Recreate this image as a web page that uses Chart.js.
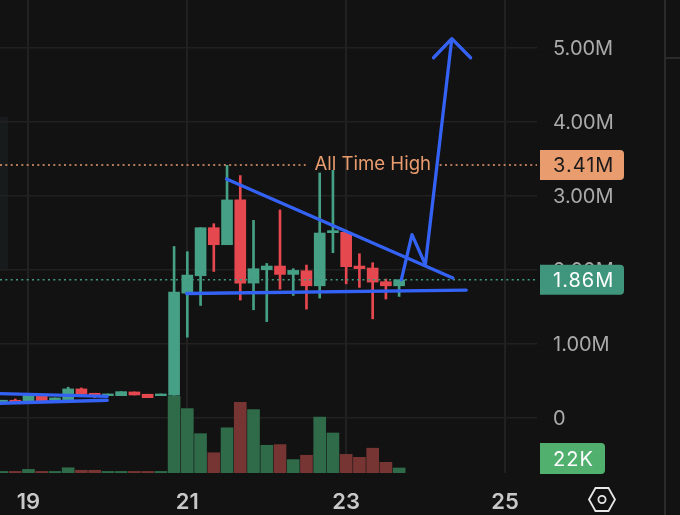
<!DOCTYPE html>
<html>
<head>
<meta charset="utf-8">
<style>
  html, body { margin: 0; padding: 0; background: #121212; }
  canvas { display: block; }
</style>
<script src="https://cdn.jsdelivr.net/npm/chart.js@4"></script>
</head>
<body>
<canvas id="chart" width="680" height="515"></canvas>
<script>
// Candles are 4h apart, index 0 is the "19" tick
const candleIndex = [-2, -1, 0, 1, 2, 3, 4, 5, 6, 7, 8, 9, 10, 11, 12, 13, 14, 15, 16, 17, 18, 19, 20, 21, 22, 23, 24, 25, 26, 27, 28];
const opens  = [0.21, 0.233, 0.192, 0.314, 0.237, 0.237, 0.386, 0.327, 0.295, 0.295, 0.345, 0.314, 0.295, 0.30, 1.68, 1.915, 2.564, 2.334, 2.939, 1.816, 1.996, 2.046, 1.933, 1.982, 1.779, 2.497, 2.501, 2.046, 2.019, 1.834, 1.779];
const closes = [0.233, 0.21, 0.314, 0.219, 0.264, 0.386, 0.314, 0.295, 0.318, 0.349, 0.304, 0.268, 0.318, 1.694, 1.924, 2.564, 2.334, 2.939, 1.816, 2.01, 2.046, 1.933, 1.987, 1.779, 2.492, 2.524, 2.037, 2.01, 1.829, 1.779, 1.86];
const highs  = [0.233, 0.25, 0.314, 0.314, 0.264, 0.409, 0.399, 0.327, 0.318, 0.349, 0.345, 0.314, 0.318, 2.31, 2.24, 2.564, 2.618, 3.407, 3.268, 2.663, 2.081, 2.803, 2.01, 2.059, 3.304, 3.34, 2.53, 2.212, 2.091, 1.87, 1.86];
const lows   = [0.21, 0.21, 0.192, 0.219, 0.237, 0.237, 0.314, 0.268, 0.295, 0.295, 0.304, 0.268, 0.295, 0.30, 1.085, 1.513, 1.973, 2.334, 1.586, 1.455, 1.296, 1.734, 1.649, 1.464, 1.613, 2.226, 1.806, 1.757, 1.333, 1.6, 1.635];
const volumes = [7, 7, 16, 7, 7, 23, 12, 12, 7, 7, 7, 7, 7, 337, 283, 173, 89, 199, 311, 279, 122, 125, 59, 78, 246, 176, 82, 69, 109, 47, 22];

const priceTicks = [0, 1, 2, 3, 4, 5];
const dayTicks = [0, 12, 24, 36];
const dayLabels = ["19", "21", "23", "25"];

const athPrice = 3.41;
const lastPrice = 1.86;
const lastVolume = "22K";

// Drawn trend lines, [index, price]
const upperTrend = [[14.96, 3.223], [32.06, 1.884]];
const lowerTrend = [[11.94, 1.675], [33.07, 1.721]];
const arrowPath = [[28.17, 1.861], [28.97, 2.47], [29.98, 2.064], [31.98, 5.118], [30.6, 4.86], [31.98, 5.118], [33.4, 4.86]];
const oldUpper = [[-2.15, 0.322], [5.95, 0.286]];
const oldLower = [[-2.15, 0.192], [5.95, 0.233]];

const xMin = -2.151, xMax = 38.415;
const priceMin = -0.75, priceMax = 5.64;
const volumeMax = 2081;

const GREEN = "#46a085", RED = "#e5484f";
const VOL_GREEN = "#2f6a49", VOL_RED = "#763533";
const BLUE = "#3462f4";
const ORANGE = "#e99c6e";
const GRID = "#212121";

const isUp = candleIndex.map((_, i) => closes[i] >= opens[i]);
const candleColors = isUp.map(up => up ? GREEN : RED);
const volumeColors = isUp.map(up => up ? VOL_GREEN : VOL_RED);
const toPoints = list => list.map(p => ({ x: p[0], y: p[1] }));

function trendLine(points) {
    return {
        type: 'line',
        data: toPoints(points),
        borderColor: BLUE,
        borderWidth: 3.3,
        pointRadius: 0,
        tension: 0,
        borderCapStyle: 'round',
        borderJoinStyle: 'round',
        yAxisID: 'y',
        order: 1
    };
}

function dottedLine(points, color) {
    return {
        type: 'line',
        data: toPoints(points),
        borderColor: color,
        borderWidth: 1.6,
        borderDash: [2, 3.33],
        pointRadius: 0,
        yAxisID: 'y',
        order: 2
    };
}

// Small rounded tag on the price axis
function tag(ctx, top, bottom, right, color, text, textColor, textX) {
    const left = 540;
    ctx.fillStyle = color;
    ctx.beginPath();
    ctx.roundRect(left, top, right - left, bottom - top, [0, 4, 4, 0]);
    ctx.fill();
    ctx.fillStyle = textColor;
    ctx.font = "20px Inter";
    ctx.letterSpacing = "1px";
    ctx.textAlign = "left";
    ctx.textBaseline = "middle";
    ctx.fillText(text, textX, (top + bottom) / 2 + 1);
    ctx.letterSpacing = "0px";
}

const chromePlugin = {
    id: 'chrome',
    beforeDraw(chart) {
        const { ctx, width, height } = chart;
        ctx.save();
        ctx.fillStyle = "#121212";
        ctx.fillRect(0, 0, width, height);
        // faint leftover panel on the left edge
        ctx.fillStyle = "#181b1c";
        ctx.fillRect(0, 117, 8, 153);
        // panel separators on the right
        ctx.fillStyle = "#2a2a2a";
        ctx.fillRect(664, 0, 2, height);
        ctx.fillRect(666, 57, 14, 2);
        ctx.restore();
    },
    afterDraw(chart) {
        const { ctx } = chart;
        const yScale = chart.scales.y;
        const xScale = chart.scales.x;
        ctx.save();

        const athY = yScale.getPixelForValue(athPrice);
        const lastY = yScale.getPixelForValue(lastPrice);

        ctx.fillStyle = ORANGE;
        ctx.font = "18.6px Inter";
        ctx.textAlign = "left";
        ctx.textBaseline = "middle";
        ctx.fillText("All Time High", xScale.getPixelForValue(21.6), athY - 1);

        tag(ctx, athY - 15, athY + 15, 624, ORANGE, athPrice.toFixed(2) + "M", "#1a1a1a", 553);
        tag(ctx, lastY - 15, lastY + 15, 624, "#40967c", lastPrice.toFixed(2) + "M", "#ffffff", 553);
        tag(ctx, 443, 474, 605, "#52b06f", lastVolume, "#ffffff", 553);

        // settings hexagon
        const cx = 602, cy = 499.5, rx = 13, ry = 11.5;
        ctx.strokeStyle = "#e6e6e6";
        ctx.lineWidth = 1.8;
        ctx.beginPath();
        ctx.moveTo(cx - rx, cy);
        ctx.lineTo(cx - rx / 2, cy - ry);
        ctx.lineTo(cx + rx / 2, cy - ry);
        ctx.lineTo(cx + rx, cy);
        ctx.lineTo(cx + rx / 2, cy + ry);
        ctx.lineTo(cx - rx / 2, cy + ry);
        ctx.closePath();
        ctx.stroke();
        ctx.beginPath();
        ctx.arc(cx, cy, 3.6, 0, Math.PI * 2);
        ctx.stroke();

        ctx.restore();
    }
};

new Chart(document.getElementById("chart"), {
    type: 'bar',
    plugins: [chromePlugin],
    data: {
        datasets: [
            {
                data: candleIndex.map((x, i) => ({ x: x, y: volumes[i] })),
                backgroundColor: volumeColors,
                barThickness: 12,
                yAxisID: 'yVol',
                order: 5
            },
            {
                data: candleIndex.map((x, i) => ({ x: x, y: [lows[i], highs[i]] })),
                backgroundColor: candleColors,
                barThickness: 2,
                yAxisID: 'y',
                order: 4
            },
            {
                data: candleIndex.map((x, i) => ({ x: x, y: [opens[i], closes[i]] })),
                backgroundColor: candleColors,
                barThickness: 11,
                yAxisID: 'y',
                order: 3
            },
            dottedLine([[xMin, athPrice], [20.94, athPrice]], ORANGE),
            dottedLine([[31.06, athPrice], [xMax, athPrice]], ORANGE),
            dottedLine([[xMin, lastPrice], [xMax, lastPrice]], "#3f9a80"),
            trendLine(oldUpper),
            trendLine(oldLower),
            trendLine(upperTrend),
            trendLine(lowerTrend),
            trendLine(arrowPath)
        ]
    },
    options: {
        responsive: false,
        animation: false,
        layout: { padding: 0 },
        datasets: { bar: { grouped: false } },
        plugins: {
            legend: { display: false },
            tooltip: { enabled: false }
        },
        scales: {
            x: {
                type: 'linear',
                min: xMin,
                max: xMax,
                offset: false,
                afterBuildTicks: scale => { scale.ticks = dayTicks.map(v => ({ value: v })); },
                afterFit: scale => { scale.height = 42; scale.paddingLeft = 0; scale.paddingRight = 0; },
                grid: { color: GRID, lineWidth: 2, offset: false, drawTicks: false },
                border: { display: false },
                ticks: {
                    color: "#c8c8c8",
                    font: { family: "Inter", size: 22, weight: 600 },
                    padding: 16,
                    maxRotation: 0,
                    autoSkip: false,
                    callback: v => dayLabels[dayTicks.indexOf(v)]
                }
            },
            y: {
                type: 'linear',
                position: 'right',
                min: priceMin,
                max: priceMax,
                afterBuildTicks: scale => { scale.ticks = priceTicks.map(v => ({ value: v })); },
                afterFit: scale => { scale.width = 143; scale.paddingTop = 0; scale.paddingBottom = 0; },
                grid: { color: GRID, lineWidth: 1.5, drawTicks: false },
                border: { display: false },
                ticks: {
                    color: "#aaaaaa",
                    font: { family: "Inter", size: 20 },
                    padding: 16,
                    labelOffset: 1.5,
                    autoSkip: false,
                    callback: v => v === 0 ? "0" : v.toFixed(2) + "M"
                }
            },
            yVol: {
                type: 'linear',
                display: false,
                min: 0,
                max: volumeMax
            }
        }
    }
});
</script>
</body>
</html>
